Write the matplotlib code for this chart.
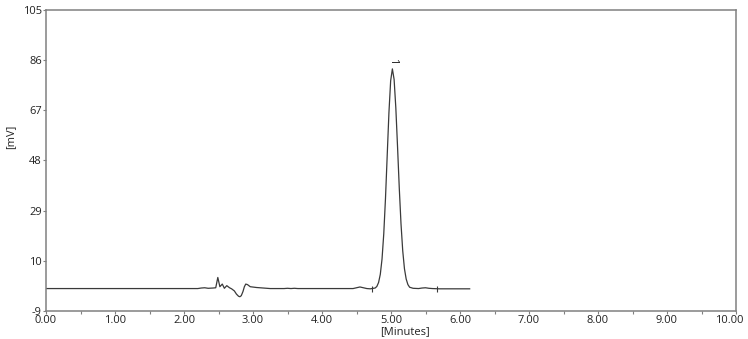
import matplotlib
matplotlib.use("Agg")
import matplotlib.pyplot as plt
import matplotlib.transforms as mtransforms

# ---- data ----
time_min = [
    0.00, 1.00, 2.00, 2.20, 2.25, 2.30, 2.35, 2.42, 2.46, 2.49, 2.52,
    2.555, 2.585, 2.62, 2.66, 2.69, 2.73, 2.76, 2.79, 2.81, 2.83, 2.855,
    2.875, 2.895, 2.92, 2.96, 3.05, 3.25,
    3.45, 3.50, 3.55, 3.60, 3.65, 4.00, 4.45, 4.50, 4.55, 4.60, 4.65, 4.70,
    4.77, 4.795, 4.82, 4.845, 4.87, 4.895, 4.92, 4.945, 4.97, 4.995, 5.02,
    5.045, 5.07, 5.095, 5.12, 5.145, 5.17, 5.195, 5.22, 5.245, 5.27, 5.32,
    5.40, 5.45, 5.50, 5.55, 5.60, 5.70, 5.90, 6.14,
]
signal_mv = [
    -0.5, -0.5, -0.5, -0.5, -0.3, -0.2, -0.4, -0.3, -0.2, 3.7, 0.2,
    1.2, -0.4, 0.6, -0.2, -0.6, -1.4, -2.6, -3.4, -3.6, -3.2, -1.6,
    0.2, 1.2, 1.0, 0.2, -0.1, -0.5,
    -0.5, -0.4, -0.5, -0.4, -0.5, -0.5, -0.5, -0.2, 0.1, -0.2, -0.5, -0.6,
    -0.3, 0.3, 1.8, 4.9, 10.7, 20.2, 33.6, 49.9, 66.1, 78.2, 82.7,
    78.7, 67.9, 53.1, 37.5, 24.0, 13.8, 7.0, 3.1, 1.0, 0.0, -0.4,
    -0.5, -0.3, -0.2, -0.4, -0.5, -0.6, -0.6, -0.6,
]
marker_times = [4.72, 5.67]
peak_labels = ["1"]
peak_times = [5.02]
peak_label_mv = [85.8]

y_ticks = [-9, 10, 29, 48, 67, 86, 105]
x_ticks = [0, 1, 2, 3, 4, 5, 6, 7, 8, 9, 10]
x_tick_labels = ["0.00", "1.00", "2.00", "3.00", "4.00", "5.00",
                 "6.00", "7.00", "8.00", "9.00", "10.00"]
x_minor = [0.5, 1.5, 2.5, 3.5, 4.5, 5.5, 6.5, 7.5, 8.5, 9.5]

plt.rcParams['font.family'] = ['Open Sans', 'DejaVu Sans']

fig = plt.figure(figsize=(7.48, 3.39), dpi=100)
ax = fig.add_axes([46 / 748, 1 - 311 / 339, (736 - 46) / 748, (311 - 10) / 339])

trace = '#3a3a3a'
spine = '#808080'

ax.plot(time_min, signal_mv, color=trace, lw=0.9)
ax.vlines(marker_times, -1.7, 0.6, color=trace, lw=0.8)
for lab, t, y in zip(peak_labels, peak_times, peak_label_mv):
    ax.text(t, y, lab, rotation=270, ha='center', va='center',
            fontsize=8, color='#222222')

ax.set_xlim(0, 10)
ax.set_ylim(-9, 105)
ax.set_yticks(y_ticks)
ax.set_yticklabels([str(v) for v in y_ticks])
ax.set_xticks(x_ticks)
ax.set_xticklabels(x_tick_labels)
ax.set_xticks(x_minor, minor=True)

ax.tick_params(axis='both', which='major', direction='out', length=2,
               width=0.8, color=spine, labelsize=8, pad=1,
               labelcolor='#222222')
ax.tick_params(axis='x', which='minor', direction='out', length=2,
               width=0.8, color=spine)
for s in ax.spines.values():
    s.set_color(spine)
    s.set_linewidth(1.1)

# keep the last x label inside the figure, as in the reference
last = ax.get_xticklabels()[-1]
last.set_transform(last.get_transform() +
                   mtransforms.ScaledTranslation(-7 / 100, 0, fig.dpi_scale_trans))

fig.text(405 / 748, 1 - 332 / 339, '[Minutes]', ha='center', va='center',
         fontsize=8, color='#222222')
fig.text(11 / 748, 1 - 137 / 339, '[mV]', ha='center', va='center',
         rotation=90, fontsize=8, color='#222222')

fig.savefig('out.png', dpi=100)
